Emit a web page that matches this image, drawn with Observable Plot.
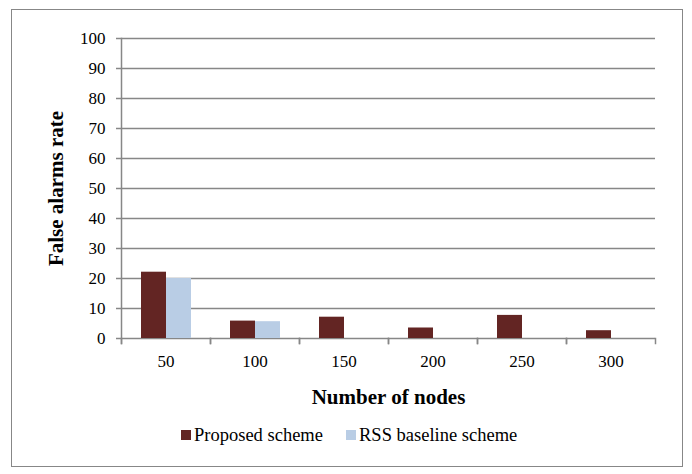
<!DOCTYPE html>
<html>
<head>
<meta charset="utf-8">
<script src="https://cdn.jsdelivr.net/npm/d3@7"></script>
<script src="https://cdn.jsdelivr.net/npm/@observablehq/plot@0.6"></script>
<style>
  body { margin: 0; background: #fff; font-family: "Liberation Serif", "Times New Roman", serif; }
  #wrap { position: relative; width: 692px; height: 474px; overflow: hidden; }
  #box { position: absolute; left: 11px; top: 9px; width: 672px; height: 458px; border: 1.5px solid #878787; box-sizing: border-box; }
  #chart { position: absolute; left: 0; top: 0; }
  #legend { position: absolute; left: 0; top: 425px; width: 692px; height: 24px; font-size: 18.5px; color: #000; }
  .item { position: absolute; top: 0; white-space: nowrap; line-height: 20px; }
  .sw { display: inline-block; width: 10px; height: 10px; margin-right: 3px; vertical-align: 1px; }
</style>
</head>
<body>
<div id="wrap">
  <div id="box"></div>
  <div id="chart"></div>
  <div id="legend"></div>
</div>
<script>
const nodes = [50, 100, 150, 200, 250, 300];
const seriesNames = ["Proposed scheme", "RSS baseline scheme"];
const proposed = [22.1, 5.8, 7.1, 3.5, 7.7, 2.6];
const rss = [20.0, 5.6, null, null, null, null];
const yTicks = [0, 10, 20, 30, 40, 50, 60, 70, 80, 90, 100];
const colors = ["#632523", "#B9CDE5"];

const data = [];
nodes.forEach((n, i) => {
  data.push({nodes: n, series: seriesNames[0], value: proposed[i]});
  data.push({nodes: n, series: seriesNames[1], value: rss[i]});
});

const grey = "#878787";
const chart = Plot.plot({
  width: 692,
  height: 420,
  marginTop: 38,
  marginBottom: 82,
  marginLeft: 121,
  marginRight: 37,
  style: { fontFamily: "'Liberation Serif', 'Times New Roman', serif", background: "transparent", overflow: "visible" },
  fx: { domain: nodes, padding: 0, axis: null },
  x: { domain: seriesNames, paddingInner: 0, paddingOuter: 0.745, axis: null },
  y: { domain: [0, 100], axis: null },
  color: { domain: seriesNames, range: colors },
  marks: [
    Plot.ruleY(yTicks, { stroke: grey, strokeWidth: 1.5 }),
    Plot.barY(data, { fx: "nodes", x: "series", y: "value", fill: "series" }),
    Plot.frame({ anchor: "left", stroke: grey, strokeWidth: 1.5, insetTop: 300, insetBottom: -5 }),
    Plot.frame({ anchor: "right", stroke: grey, strokeWidth: 1.5, insetTop: 300, insetBottom: -5 }),
    Plot.frame({ anchor: "left", fx: () => nodes[0], stroke: grey, strokeWidth: 1.5, insetBottom: -5 }),
    Plot.axisY({ ticks: yTicks, tickSize: 5, tickPadding: 11, fontSize: 17, stroke: grey, strokeWidth: 1.5, color: "#000", label: null }),
    Plot.axisY({ ticks: [], tickSize: 0, label: "False alarms rate", labelArrow: "none", labelAnchor: "center", labelOffset: 73, fontSize: 21, fontWeight: "bold", color: "#000", dx: 0 }),
    Plot.axisFx({ anchor: "bottom", tickSize: 0, tickPadding: 16, fontSize: 17, color: "#000", label: null }),
    Plot.axisFx({ anchor: "bottom", ticks: [], tickSize: 0, label: "Number of nodes", labelArrow: "none", labelAnchor: "center", labelOffset: 65, fontSize: 21, fontWeight: "bold", color: "#000" })
  ]
});
document.getElementById("chart").appendChild(chart);

const legend = document.getElementById("legend");
const lefts = [181, 346];
seriesNames.forEach((name, i) => {
  const it = document.createElement("div");
  it.className = "item";
  it.style.left = lefts[i] + "px";
  const sw = document.createElement("span");
  sw.className = "sw";
  sw.style.background = colors[i];
  it.appendChild(sw);
  it.appendChild(document.createTextNode(name));
  legend.appendChild(it);
});
</script>
</body>
</html>
